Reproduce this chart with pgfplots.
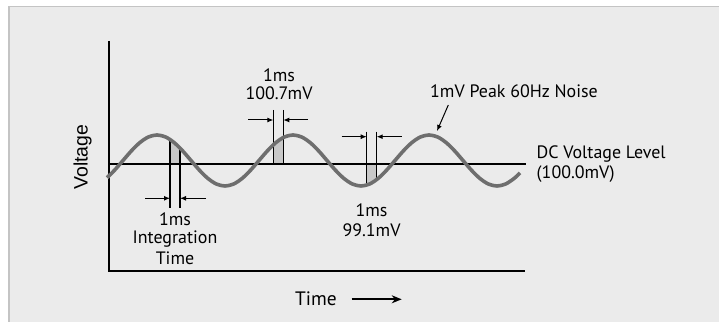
\documentclass[border=0pt]{standalone}
\usepackage{pgfplots}
\pgfplotsset{compat=1.18}
\usetikzlibrary{arrows.meta}
\usepackage{fontspec}
\setmainfont{PT Sans}
\newfontfamily\arialf{Liberation Sans}
\definecolor{bg}{HTML}{EBEBEB}
\definecolor{frame}{HTML}{C4C4C4}
\definecolor{wavec}{HTML}{6E6E6E}
\definecolor{shade}{HTML}{C8C8C8}
\begin{document}
\begin{tikzpicture}[
  smallarrow/.style={black, line width=1bp, -{Latex[length=6bp,width=5bp]}},
  lab/.style={font=\fontsize{18}{20}\selectfont, text=black, inner sep=0pt},
]
\fill[white] (0,0) rectangle (719bp,322bp);
\begin{axis}[
  at={(8bp,0bp)}, anchor=south west,
  scale only axis, width=711bp, height=316bp,
  xmin=8, xmax=719, ymin=0, ymax=316,
  axis line style={draw=none}, xtick=\empty, ytick=\empty,
  axis background/.style={fill=bg},
  clip=false,
]
% shaded 1 ms integration windows (between DC level and wave)
\addplot[fill=shade, draw=none] coordinates {(170,158) (170,182.5) (175,178.7) (180,173.9) (180,158)} -- cycle;
\addplot[fill=shade, draw=none] coordinates {(273.3,158) (273.3,177.2) (278.3,181.3) (283.3,184.5) (283.3,158)} -- cycle;
\addplot[fill=shade, draw=none] coordinates {(366.7,158) (366.7,136.9) (371.7,139.0) (376.7,142.4) (376.7,158)} -- cycle;
% axes
\addplot[black, line width=2bp, line join=miter] coordinates {(109,281) (109,50.5) (524.5,50.5)};
% DC level
\addplot[black, line width=1.8bp] coordinates {(109,158) (525.5,158)};
% band lines
\addplot[black, line width=1.2bp] coordinates {(170,182.5) (170,114)};
\addplot[black, line width=1.2bp] coordinates {(180,173.9) (180,114)};
\addplot[black, line width=1.2bp] coordinates {(273.3,212) (273.3,158)};
\addplot[black, line width=1.2bp] coordinates {(283.3,212) (283.3,158)};
\addplot[black, line width=1.2bp] coordinates {(366.7,190.3) (366.7,137)};
\addplot[black, line width=1.2bp] coordinates {(376.7,190.3) (376.7,142.4)};
% wave
\addplot[wavec, line width=3.6bp, smooth] coordinates {
(107,144.3) (114.5,151.74) (123,161.5) (131.5,171.26) (140,179.53) (148.5,185.06) (157,187) (165.5,185.06) (174,179.53) (182.5,171.26)
(191,161.5) (199.5,151.74) (208,143.47) (216.5,137.94) (225,136) (233.5,137.94) (242,143.47) (250.5,151.74)
(259,161.5) (267.5,171.26) (276,179.53) (284.5,185.06) (293,187) (301.5,185.06) (310,179.53) (318.5,171.26)
(327,161.5) (335.5,151.74) (344,143.47) (352.5,137.94) (361,136) (369.5,137.94) (378,143.47) (386.5,151.74)
(395,161.5) (403.5,171.26) (412,179.53) (420.5,185.06) (429,187) (437.5,185.06) (446,179.53) (454.5,171.26)
(463,161.5) (471.5,151.74) (480,143.47) (488.5,137.94) (497,136) (505.5,137.94) (514,143.47) (520,149.1)};
% arrows
\addplot[smallarrow] coordinates {(145,123.7) (170,123.7)};
\addplot[smallarrow] coordinates {(206,123.7) (180,123.7)};
\addplot[smallarrow] coordinates {(248,202) (273.3,202)};
\addplot[smallarrow] coordinates {(308,202) (283.3,202)};
\addplot[smallarrow] coordinates {(341.7,185.3) (366.7,185.3)};
\addplot[smallarrow] coordinates {(401.7,185.3) (376.7,185.3)};
\addplot[smallarrow] coordinates {(448.3,217) (437,191)};
\addplot[black, line width=1.6bp, -{Stealth[length=10bp,width=8bp]}] coordinates {(351.7,22.7) (401.7,22.7)};
% labels
\node[lab] at (axis cs:279,247) {1ms};
\node[lab] at (axis cs:279,229) {100.7mV};
\node[lab] at (axis cs:175,103) {1ms};
\node[lab] at (axis cs:175,83) {Integration};
\node[lab] at (axis cs:175,63.5) {Time};
\node[lab] at (axis cs:371.5,111.5) {1ms};
\node[lab] at (axis cs:371.5,92) {99.1mV};
\node[lab] at (axis cs:514,230.5) {1mV Peak 60Hz Noise};
\node[lab, anchor=west] at (axis cs:536.5,168) {DC Voltage Level};
\node[lab, anchor=west] at (axis cs:536.5,147.5) {(100.0mV)};
\node[lab, font=\fontsize{19.5}{22}\selectfont] at (axis cs:316,23.5) {Time};
\node[lab, rotate=90, font=\arialf\fontsize{19.5}{22}\selectfont] at (axis cs:82.5,165) {Voltage};
\end{axis}
\draw[frame, line width=1.5bp] (8.75bp,0) -- (8.75bp,315.25bp) -- (719bp,315.25bp);
\pgfresetboundingbox
\useasboundingbox (0,0) rectangle (719bp,322bp);
\end{tikzpicture}
\end{document}
